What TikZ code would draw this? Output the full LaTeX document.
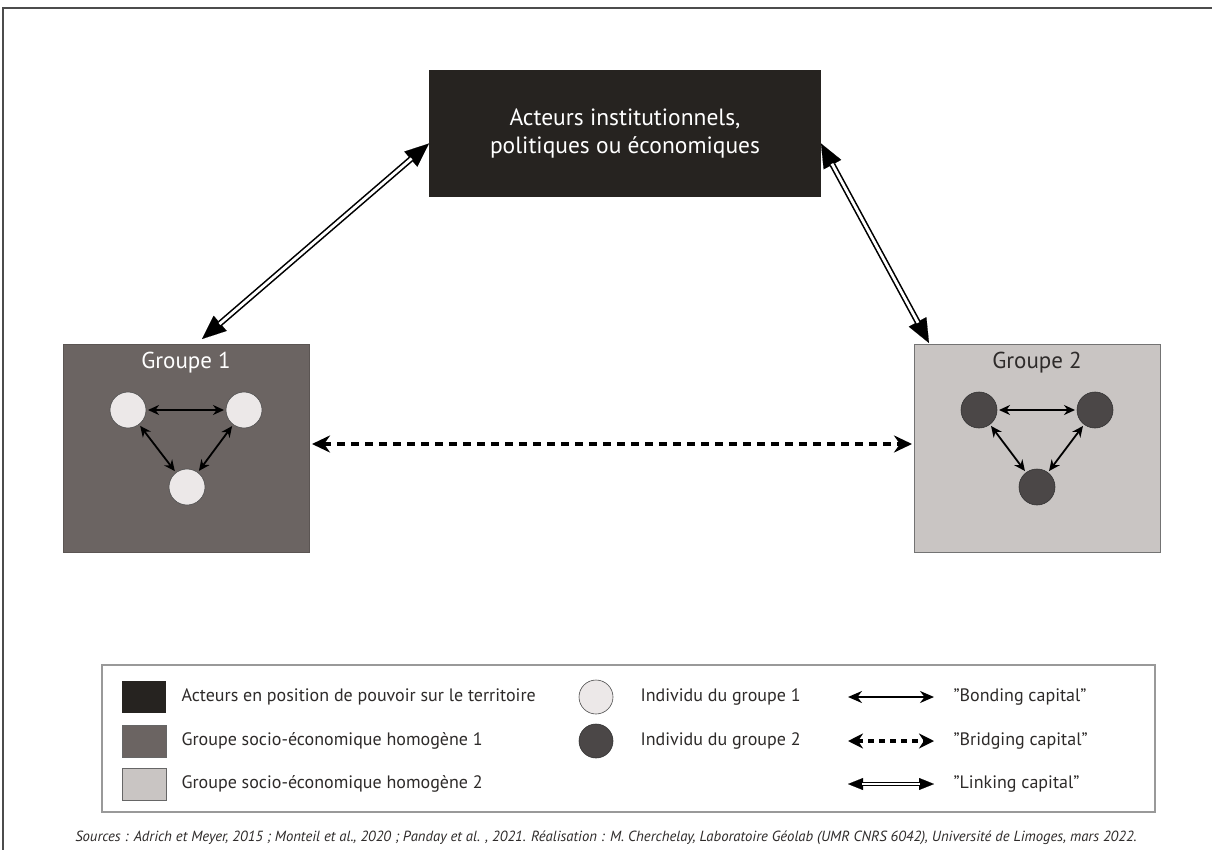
\documentclass[tikz,border=0pt]{standalone}
\usepackage{fontspec}
\setmainfont{PT Sans}
\usepackage{graphicx}
\usetikzlibrary{arrows.meta,positioning}
\definecolor{cPouvoir}{HTML}{262320}
\definecolor{cGrpUn}{HTML}{6B6462}
\definecolor{cGrpDeux}{HTML}{C9C5C3}
\definecolor{cIndUn}{HTML}{ECE8E8}
\definecolor{cIndDeux}{HTML}{4B4747}
\definecolor{cTexte}{HTML}{2E2B2A}

\begin{document}
\begin{tikzpicture}[x=1pt,y=-1pt,
  bloc/.style={rectangle, inner sep=0pt, outer sep=0pt, line width=0.8pt},
  indiv/.style={circle, minimum size=36pt, inner sep=0pt, outer sep=0pt, line width=0.6pt},
  bond/.style={line width=1.8pt, {Stealth[length=11pt,width=10pt]}-{Stealth[length=11pt,width=10pt]}, shorten <=2pt, shorten >=2pt},
  bridge/.style={line width=4pt, dash pattern=on 8pt off 6pt, {Stealth[length=18pt,width=17pt]}-{Stealth[length=18pt,width=17pt]}},
  link/.style={line width=6pt, {Triangle[length=24pt,width=20pt,line width=0.1pt]}-{Triangle[length=24pt,width=20pt,line width=0.1pt]},
    postaction={draw=white, line width=2.8pt, -, shorten <=23pt, shorten >=23pt}},
  linkpetit/.style={line width=4pt, {Triangle[length=15pt,width=12pt,line width=0.1pt]}-{Triangle[length=15pt,width=12pt,line width=0.1pt]},
    postaction={draw=white, line width=1.4pt, -, shorten <=14pt, shorten >=14pt}},
  leg/.style={font=\fontsize{18}{20}\selectfont, text=cTexte, anchor=west}]
\useasboundingbox (0,0) rectangle (1212,850);
\fill[white] (0,0) rectangle (1212,850);
% cadre
\draw[line width=1.5pt, draw=black!70] (1212,8) -- (3,8) -- (3,850);

% acteurs
\node[bloc, fill=cPouvoir, minimum width=392pt, minimum height=127pt, text=white, align=center,
  font=\fontsize{23.5}{28}\selectfont] (acteurs) at (625,133.5) {Acteurs institutionnels,\\politiques ou économiques};

% groupes
\node[bloc, fill=cGrpUn, draw=cGrpUn!85!black, minimum width=246pt, minimum height=208pt] (g1) at (186,448) {};
\node[below=5pt of g1.north, text=white, font=\fontsize{23}{26}\selectfont] (t1) {Groupe 1};
\node[bloc, fill=cGrpDeux, draw=black!55, minimum width=246pt, minimum height=208pt] (g2) at (1037,448) {};
\node[below=5pt of g2.north, text=cTexte, font=\fontsize{23}{26}\selectfont] (t2) {Groupe 2};

\node[indiv, fill=cIndUn, draw=black!70] (i1a) at (128,410) {};
\node[indiv, fill=cIndUn, draw=black!70] (i1b) at (244,410) {};
\node[indiv, fill=cIndUn, draw=black!70] (i1c) at (187,487) {};
\node[indiv, fill=cIndDeux, draw=black!80] (i2a) at (979,410) {};
\node[indiv, fill=cIndDeux, draw=black!80] (i2b) at (1095,410) {};
\node[indiv, fill=cIndDeux, draw=black!80] (i2c) at (1037,487) {};
\draw[bond] (i1a) -- (i1b);
\draw[bond] (i1a) -- (i1c);
\draw[bond] (i1b) -- (i1c);
\draw[bond] (i2a) -- (i2b);
\draw[bond] (i2a) -- (i2c);
\draw[bond] (i2b) -- (i2c);

% liens
\coordinate (a1) at ([yshift=-10pt]acteurs.west);
\coordinate (a2) at ([yshift=-10pt]acteurs.east);
\coordinate (b1) at ([shift={(16,-5)}]g1.north);
\coordinate (b2) at ([shift={(15,-1)}]g2.north west);
\draw[link] (b1) -- (a1);
\draw[link] (a2) -- (b2);
\draw[bridge, shorten <=3pt, shorten >=2pt] ([yshift=4]g1.east) -- ([yshift=4]g2.west);

% legende
\node[bloc, draw=black!40, line width=1.5pt, minimum width=1053pt, minimum height=147pt] (legende) at (628.5,738.5) {};
\node[bloc, fill=cPouvoir, minimum width=44pt, minimum height=32pt] (lp) at (144,697) {};
\node[leg, right=12pt of lp] (tp) {Acteurs en position de pouvoir sur le territoire};
\node[bloc, fill=cGrpUn, draw=black!60, minimum width=44pt, minimum height=32pt] (lg1) at (144,741) {};
\node[leg, right=12pt of lg1] (tg1) {Groupe socio-économique homogène 1};
\node[bloc, fill=cGrpDeux, draw=black!60, minimum width=44pt, minimum height=32pt] (lg2) at (144,784) {};
\node[leg, right=12pt of lg2] (tg2) {Groupe socio-économique homogène 2};

\node[indiv, minimum size=34pt, fill=cIndUn, draw=black!70] (li1) at (596,697) {};
\node[leg, right=24pt of li1] (ti1) {Individu du groupe 1};
\node[indiv, minimum size=34pt, fill=cIndDeux, draw=black!80] (li2) at (596,741) {};
\node[leg, right=24pt of li2] (ti2) {Individu du groupe 2};

\coordinate (lb1) at (848,697); \coordinate (lb2) at (934,697);
\coordinate (lr1) at (848,741); \coordinate (lr2) at (934,741);
\coordinate (ll1) at (848,784); \coordinate (ll2) at (934,784);
\draw[line width=2pt, {Stealth[length=14pt,width=12pt]}-{Stealth[length=14pt,width=12pt]}] (lb1) -- (lb2);
\draw[line width=3.5pt, dash pattern=on 6pt off 5pt, {Stealth[length=15pt,width=15pt]}-{Stealth[length=15pt,width=15pt]}] (lr1) -- (lr2);
\draw[linkpetit] (ll1) -- (ll2);
\node[leg, right=16pt of lb2] (tb) {"Bonding capital"};
\node[leg, right=16pt of lr2] (tr) {"Bridging capital"};
\node[leg, right=16pt of ll2] (tl) {"Linking capital"};

% sources
\node[font=\fontsize{14.7}{16}\selectfont\itshape, text=cTexte] (sources) at (606,838)
  {Sources : Adrich et Meyer, 2015 ; Monteil et al., 2020 ;  Panday et al. , 2021. Réalisation : M. Cherchelay, Laboratoire Géolab (UMR CNRS 6042), Université de Limoges, mars 2022.};
\end{tikzpicture}
\end{document}
